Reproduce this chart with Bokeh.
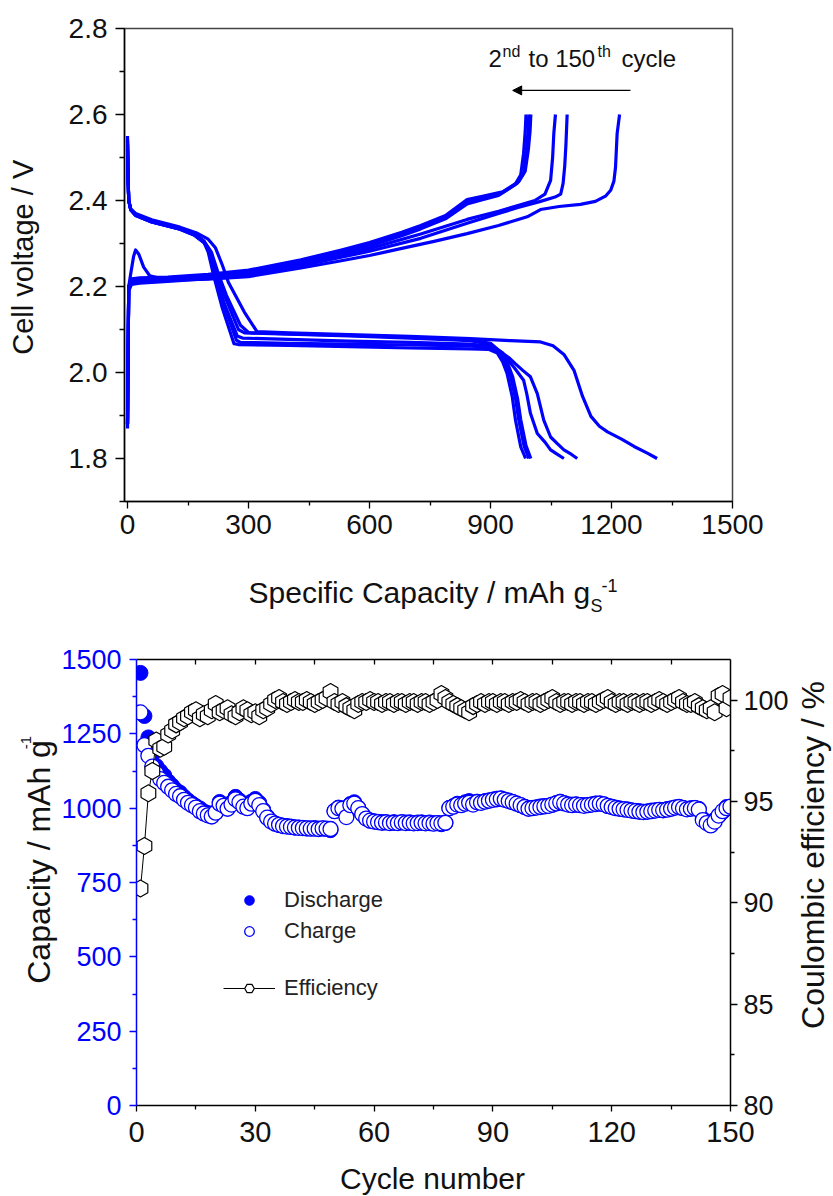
import numpy as np
from bokeh.plotting import figure
from bokeh.layouts import column, row
from bokeh.models import (Range1d, LinearAxis, FixedTicker, Label, Arrow, NormalHead,
                          Legend, LegendItem, NumeralTickFormatter)
from bokeh.embed import file_html
from bokeh.resources import INLINE

FONT = "Liberation Sans"
BLUE = "#0000ff"
TXT = "#111111"

# ---------------- top panel: voltage profiles ----------------
dis_cap_2 = [0, 1, 3, 8, 20, 60, 130, 170, 200, 218, 235, 250, 290, 321, 400, 550, 700, 850, 950, 1024, 1055, 1082, 1107, 1128, 1149, 1170, 1190, 1225, 1256, 1290, 1313]
dis_v_2 = [2.53, 2.47, 2.40, 2.38, 2.37, 2.355, 2.338, 2.325, 2.31, 2.29, 2.25, 2.21, 2.14, 2.095, 2.092, 2.088, 2.084, 2.079, 2.074, 2.071, 2.062, 2.042, 2.005, 1.945, 1.898, 1.875, 1.862, 1.845, 1.828, 1.812, 1.80]
dis_cap_5 = [0, 1, 3, 8, 20, 60, 130, 165, 190, 208, 225, 245, 280, 300, 400, 550, 700, 850, 900, 925, 945, 962, 980, 999, 1016, 1032, 1049, 1065, 1082, 1100, 1115]
dis_v_5 = [2.54, 2.47, 2.40, 2.38, 2.368, 2.352, 2.335, 2.322, 2.305, 2.28, 2.23, 2.18, 2.11, 2.093, 2.09, 2.086, 2.082, 2.076, 2.068, 2.048, 2.035, 2.02, 2.005, 1.99, 1.951, 1.889, 1.85, 1.835, 1.82, 1.81, 1.80]
dis_cap_10 = [0, 1, 3, 8, 20, 60, 130, 165, 190, 205, 222, 240, 275, 290, 400, 550, 700, 850, 900, 930, 960, 982, 990, 999, 1016, 1035, 1049, 1065, 1082]
dis_v_10 = [2.55, 2.47, 2.40, 2.38, 2.368, 2.352, 2.335, 2.322, 2.305, 2.28, 2.23, 2.18, 2.10, 2.092, 2.089, 2.085, 2.08, 2.074, 2.065, 2.045, 2.01, 1.982, 1.95, 1.905, 1.858, 1.838, 1.82, 1.81, 1.80]
dis_cap_50 = [0, 1, 3, 8, 20, 60, 130, 165, 190, 200, 215, 235, 264, 275, 400, 550, 700, 850, 895, 917, 930, 941, 954, 962, 975, 987]
dis_v_50 = [2.52, 2.46, 2.40, 2.378, 2.365, 2.35, 2.333, 2.32, 2.302, 2.28, 2.22, 2.15, 2.067, 2.065, 2.063, 2.06, 2.057, 2.055, 2.054, 2.045, 2.025, 1.998, 1.943, 1.889, 1.827, 1.80]
dis_cap_100 = [0, 1, 3, 8, 20, 60, 130, 165, 190, 202, 218, 238, 270, 280, 400, 550, 700, 850, 900, 925, 938, 950, 962, 970, 983, 995]
dis_v_100 = [2.53, 2.46, 2.40, 2.378, 2.365, 2.35, 2.333, 2.32, 2.302, 2.28, 2.22, 2.16, 2.075, 2.07, 2.068, 2.066, 2.064, 2.062, 2.058, 2.045, 2.02, 1.99, 1.94, 1.89, 1.83, 1.80]
dis_cap_150 = [0, 1, 3, 8, 20, 60, 130, 165, 190, 204, 220, 240, 272, 285, 400, 550, 700, 850, 905, 930, 943, 955, 967, 975, 988, 1000]
dis_v_150 = [2.54, 2.46, 2.40, 2.378, 2.366, 2.35, 2.334, 2.321, 2.303, 2.28, 2.22, 2.16, 2.085, 2.08, 2.077, 2.073, 2.07, 2.066, 2.06, 2.045, 2.02, 1.99, 1.94, 1.89, 1.83, 1.80]

chg_cap_2 = [0, 1, 3, 8, 15, 20, 28, 40, 55, 100, 200, 300, 430, 530, 600, 677, 760, 842, 920, 991, 1024, 1070, 1123, 1160, 1185, 1198, 1206, 1210, 1214, 1220]
chg_v_2 = [1.88, 2.0, 2.2, 2.23, 2.27, 2.285, 2.275, 2.245, 2.225, 2.215, 2.217, 2.223, 2.243, 2.26, 2.272, 2.288, 2.305, 2.323, 2.342, 2.362, 2.379, 2.386, 2.391, 2.398, 2.41, 2.424, 2.445, 2.478, 2.556, 2.60]
chg_cap_5 = [0, 1, 3, 10, 30, 100, 200, 300, 430, 530, 600, 727, 842, 920, 966, 1024, 1060, 1074, 1080, 1084, 1087, 1090]
chg_v_5 = [1.88, 2.0, 2.19, 2.205, 2.208, 2.212, 2.218, 2.226, 2.248, 2.268, 2.282, 2.312, 2.347, 2.37, 2.383, 2.398, 2.408, 2.415, 2.44, 2.48, 2.53, 2.60]
chg_cap_10 = [0, 1, 3, 10, 30, 100, 200, 300, 430, 530, 600, 727, 842, 920, 966, 1010, 1035, 1049, 1054, 1057, 1061]
chg_v_10 = [1.88, 2.0, 2.2, 2.21, 2.212, 2.216, 2.222, 2.23, 2.252, 2.272, 2.288, 2.322, 2.356, 2.375, 2.388, 2.40, 2.415, 2.447, 2.5, 2.556, 2.60]
chg_cap_50 = [0, 1, 3, 10, 30, 100, 200, 300, 430, 530, 600, 680, 727, 790, 842, 880, 925, 966, 982, 989, 993, 995]
chg_v_50 = [1.89, 2.02, 2.2, 2.215, 2.218, 2.22, 2.226, 2.235, 2.26, 2.282, 2.298, 2.322, 2.338, 2.362, 2.398, 2.406, 2.416, 2.44, 2.463, 2.517, 2.56, 2.60]
chg_cap_100 = [0, 1, 3, 10, 30, 100, 200, 300, 430, 530, 600, 680, 727, 790, 842, 880, 920, 960, 975, 982, 986, 988]
chg_v_100 = [1.87, 2.0, 2.2, 2.212, 2.215, 2.218, 2.224, 2.232, 2.256, 2.278, 2.294, 2.318, 2.334, 2.358, 2.392, 2.402, 2.412, 2.436, 2.46, 2.51, 2.56, 2.60]
chg_cap_150 = [0, 1, 3, 10, 30, 100, 200, 300, 430, 530, 600, 680, 727, 790, 842, 880, 930, 970, 986, 994, 998, 1000]
chg_v_150 = [1.88, 2.01, 2.2, 2.218, 2.22, 2.222, 2.228, 2.238, 2.262, 2.285, 2.302, 2.326, 2.342, 2.366, 2.402, 2.41, 2.42, 2.444, 2.468, 2.52, 2.56, 2.60]

volt_x_ticks = [0, 300, 600, 900, 1200, 1500]
volt_y_ticks = [1.8, 2.0, 2.2, 2.4, 2.6, 2.8]

# ---------------- bottom panel: cycling ----------------
cycles = list(range(1, 151))
charge_cap = [1322, 1212, 1176, 1140, 1118, 1098, 1085, 1072, 1060, 1048,
              1040, 1028, 1018, 1010, 1002, 990, 982, 976, 972, 985,
              1015, 1008, 998, 1012, 1030, 1020, 1005, 1000, 1015, 1025,
              1010, 990, 968, 955, 948, 944, 940, 938, 937, 935,
              934, 933, 932, 931, 931, 930, 932, 931, 930, 990,
              1000, 998, 970, 1010, 1015, 1000, 980, 965, 958, 955,
              953, 951, 952, 950, 951, 950, 952, 950, 951, 949,
              950, 951, 949, 950, 948, 950, 949, 951, 1000, 1005,
              1012, 1010, 1015, 1018, 1012, 1020, 1018, 1022, 1025, 1028,
              1030, 1032, 1028, 1024, 1020, 1015, 1010, 1004, 998, 1000,
              1002, 1004, 1006, 1008, 1012, 1016, 1020, 1016, 1012, 1010,
              1012, 1010, 1008, 1010, 1012, 1014, 1015, 1013, 1008, 1004,
              1000, 998, 996, 994, 992, 990, 988, 987, 988, 990,
              992, 994, 993, 995, 998, 1002, 1004, 1000, 996, 998,
              1000, 995, 960, 950, 942, 955, 975, 990, 1000, 1005]
discharge_cap = [1455, 1310, 1238, 1180, 1142, 1125, 1110, 1090, 1076, 1061,
                 1052, 1038, 1026, 1016, 1007, 999, 989, 984, 977, 987,
                 1021, 1013, 1002, 1019, 1038, 1026, 1009, 1005, 1022, 1031,
                 1018, 995, 972, 957, 948, 943, 941, 940, 938, 935,
                 935, 934, 932, 932, 933, 931, 932, 930, 926, 991,
                 1002, 999, 973, 1014, 1020, 1002, 981, 966, 958, 956,
                 954, 953, 953, 951, 953, 951, 953, 952, 952, 950,
                 952, 952, 950, 952, 949, 950, 946, 950, 1001, 1007,
                 1015, 1014, 1020, 1024, 1015, 1022, 1019, 1024, 1026, 1029,
                 1032, 1033, 1029, 1026, 1021, 1016, 1010, 1005, 1000, 1001,
                 1003, 1006, 1007, 1008, 1011, 1017, 1022, 1017, 1013, 1012,
                 1013, 1011, 1010, 1011, 1013, 1016, 1016, 1013, 1007, 1005,
                 1002, 999, 997, 996, 993, 991, 990, 988, 989, 992,
                 993, 994, 994, 997, 999, 1002, 1003, 1001, 998, 1000,
                 1001, 998, 964, 955, 946, 961, 973, 987, 1004, 1004]
efficiency = [90.7, 92.8, 95.4, 96.5, 98.0, 97.6, 97.7, 98.3, 98.5, 98.8,
              98.9, 99.1, 99.2, 99.4, 99.5, 99.1, 99.3, 99.2, 99.5, 99.8,
              99.4, 99.5, 99.6, 99.3, 99.2, 99.4, 99.6, 99.5, 99.3, 99.4,
              99.2, 99.5, 99.6, 99.8, 100.0, 100.1, 99.9, 99.8, 99.9, 100.0,
              99.9, 99.9, 100.0, 99.9, 99.8, 99.9, 100.0, 100.1, 100.4, 99.9,
              99.8, 99.9, 99.7, 99.6, 99.5, 99.8, 99.9, 99.9, 100.0, 99.9,
              99.9, 99.8, 99.9, 99.9, 99.8, 99.9, 99.9, 99.8, 99.9, 99.9,
              99.8, 99.9, 99.9, 99.8, 99.9, 100.0, 100.3, 100.1, 99.9, 99.8,
              99.7, 99.6, 99.5, 99.4, 99.7, 99.8, 99.9, 99.8, 99.9, 99.9,
              99.8, 99.9, 99.9, 99.8, 99.9, 99.9, 100.0, 99.9, 99.8, 99.9,
              99.9, 99.8, 99.9, 100.0, 100.1, 99.9, 99.8, 99.9, 99.9, 99.8,
              99.9, 99.9, 99.8, 99.9, 99.9, 99.8, 99.9, 100.0, 100.1, 99.9,
              99.8, 99.9, 99.9, 99.8, 99.9, 99.9, 99.8, 99.9, 99.9, 99.8,
              99.9, 100.0, 99.9, 99.8, 99.9, 100.0, 100.1, 99.9, 99.8, 99.8,
              99.9, 99.7, 99.6, 99.5, 99.6, 99.4, 100.2, 100.3, 99.6, 100.1]

cyc_x_ticks = [0, 30, 60, 90, 120, 150]
cap_y_ticks = [0, 250, 500, 750, 1000, 1250, 1500]
eff_y_ticks = [80, 85, 90, 95, 100]


def label_fig(w, h):
    f = figure(width=w, height=h, x_range=Range1d(0, w), y_range=Range1d(0, h),
               output_backend="svg", toolbar_location=None,
               x_axis_type=None, y_axis_type=None, min_border=0)
    f.outline_line_color = None
    f.background_fill_color = "white"
    f.border_fill_color = "white"
    return f


def txt(x, y, s, size, angle=0.0, align="center", x_offset=0):
    return Label(x=x, y=y, x_offset=x_offset, text=s, angle=angle, text_font=FONT,
                 text_font_size=size, text_color=TXT, text_align=align,
                 text_baseline="middle")


# ================= TOP FIGURE =================
p1 = figure(width=783, height=551, output_backend="svg", toolbar_location=None,
            x_range=Range1d(-7.5, 1500), y_range=Range1d(1.7, 2.8),
            min_border_left=74, min_border_right=101,
            min_border_top=28, min_border_bottom=50)
p1.xgrid.grid_line_color = None
p1.ygrid.grid_line_color = None
p1.outline_line_color = "#444444"
p1.outline_line_width = 1.5
p1.background_fill_color = "white"
p1.border_fill_color = "white"

for cap, v in [(dis_cap_2, dis_v_2), (dis_cap_5, dis_v_5), (dis_cap_10, dis_v_10),
               (dis_cap_50, dis_v_50), (dis_cap_100, dis_v_100), (dis_cap_150, dis_v_150),
               (chg_cap_2, chg_v_2), (chg_cap_5, chg_v_5), (chg_cap_10, chg_v_10),
               (chg_cap_50, chg_v_50), (chg_cap_100, chg_v_100), (chg_cap_150, chg_v_150)]:
    p1.line(cap, v, line_color=BLUE, line_width=3.2, line_join="round")

xa = p1.xaxis[0]
xa.ticker = FixedTicker(ticks=volt_x_ticks, minor_ticks=[150, 450, 750, 1050, 1350])
ya = p1.yaxis[0]
ya.ticker = FixedTicker(ticks=volt_y_ticks, minor_ticks=[1.7, 1.9, 2.1, 2.3, 2.5, 2.7])
ya.formatter = NumeralTickFormatter(format="0.0")
for ax in (xa, ya):
    ax.axis_line_color = "black"
    ax.axis_line_width = 1.5
    ax.major_tick_line_color = "black"
    ax.minor_tick_line_color = "black"
    ax.major_tick_line_width = 1.3
    ax.minor_tick_line_width = 1.3
    ax.major_tick_in = 0
    ax.minor_tick_in = 0
    ax.major_label_text_font = FONT
    ax.major_label_text_font_size = "28px"
    ax.major_label_text_color = TXT
xa.major_tick_out = 7
xa.minor_tick_out = 4
xa.major_label_standoff = 6
ya.major_tick_out = 9
ya.minor_tick_out = 5
ya.major_label_standoff = 8

# annotation "2nd to 150th cycle" with arrow
for s, dx, yy, fs in [("2", 0, 2.731, "24px"), ("nd", 14, 2.747, "16px"),
                      ("to 150", 40, 2.731, "24px"), ("th", 109, 2.747, "16px"),
                      ("cycle", 133, 2.731, "24px")]:
    p1.add_layout(txt(895, yy, s, fs, align="left", x_offset=dx))
p1.add_layout(Arrow(x_start=1247, y_start=2.656, x_end=955, y_end=2.656,
                    line_color="black", line_width=1.3,
                    end=NormalHead(size=9, fill_color="black", line_color="black")))

# left title strip for top panel
L1 = label_fig(50, 551)
L1.add_layout(txt(22.5, 284.5, "Cell voltage / V", "29px", angle=np.pi / 2))

# x-title strip for top panel
B1 = label_fig(833, 67)
B1.add_layout(txt(248, 26, "Specific Capacity / mAh g", "30px", align="left"))
B1.add_layout(txt(590, 12.5, "S", "18px", align="left"))
B1.add_layout(txt(601, 33.5, "-1", "18px", align="left"))

# ================= BOTTOM FIGURE =================
LW, RW = 58, 42
p2 = figure(width=833 - LW - RW, height=542, output_backend="svg", toolbar_location=None,
            x_range=Range1d(0, 150), y_range=Range1d(0, 1500),
            min_border_left=135 - LW, min_border_right=833 - LW - RW - (135 - LW) - 595,
            min_border_top=41, min_border_bottom=55)
p2.extra_y_ranges = {"eff": Range1d(80, 102)}
p2.xgrid.grid_line_color = None
p2.ygrid.grid_line_color = None
p2.outline_line_color = None
p2.background_fill_color = "white"
p2.border_fill_color = "white"

p2.scatter(cycles, discharge_cap, marker="circle", size=15,
           fill_color=BLUE, line_color=BLUE, line_width=1)
p2.scatter(cycles, charge_cap, marker="circle", size=15,
           fill_color="white", line_color=BLUE, line_width=1.3)
p2.line(cycles, efficiency, y_range_name="eff", line_color="black", line_width=1)
p2.scatter(cycles, efficiency, y_range_name="eff", marker="hex", size=17,
           angle=np.pi / 2, fill_color="white", line_color="black", line_width=1.2)

bx = p2.xaxis[0]
bx.ticker = FixedTicker(ticks=cyc_x_ticks, minor_ticks=[15, 45, 75, 105, 135])
by = p2.yaxis[0]
by.ticker = FixedTicker(ticks=cap_y_ticks, minor_ticks=[125, 375, 625, 875, 1125, 1375])
ry = LinearAxis(y_range_name="eff",
                ticker=FixedTicker(ticks=eff_y_ticks, minor_ticks=[82.5, 87.5, 92.5, 97.5]))
p2.add_layout(ry, "right")
tx = LinearAxis(ticker=FixedTicker(ticks=[15, 30, 45, 60, 75, 90, 105, 120, 135], minor_ticks=[]))
p2.add_layout(tx, "above")

for ax in (bx, by, ry, tx):
    ax.axis_line_width = 1.5
    ax.major_tick_line_width = 1.3
    ax.minor_tick_line_width = 1.3
    ax.major_tick_in = 0
    ax.minor_tick_in = 0
    ax.major_label_text_font = FONT
    ax.major_label_text_color = TXT
    ax.axis_line_color = "black"
    ax.major_tick_line_color = "black"
    ax.minor_tick_line_color = "black"
bx.major_label_text_font_size = "29px"
bx.major_tick_out = 6
bx.minor_tick_out = 4
bx.major_label_standoff = 10
by.major_label_text_font_size = "27px"
by.major_label_text_color = BLUE
by.axis_line_color = BLUE
by.major_tick_line_color = BLUE
by.minor_tick_line_color = BLUE
by.major_tick_out = 7
by.minor_tick_out = 4
by.major_label_standoff = 8
ry.major_label_text_font_size = "27px"
ry.major_tick_out = 7
ry.minor_tick_out = 4
ry.major_label_standoff = 6
tx.major_tick_in = 5
tx.major_tick_out = 0
tx.major_label_text_font_size = "1px"
tx.major_label_text_alpha = 0

# legend proxies (placed off-range so only the legend shows them)
lg_dis = p2.scatter([-50], [-50], marker="circle", size=12, fill_color=BLUE, line_color=BLUE)
lg_chg = p2.scatter([-50], [-50], marker="circle", size=12, fill_color="white",
                    line_color=BLUE, line_width=1.3)
lg_eff_l = p2.line([-60, -50], [-50, -50], line_color="black", line_width=1.2)
lg_eff_m = p2.scatter([-50], [-50], marker="hex", size=15, angle=np.pi / 2,
                      fill_color="white", line_color="black", line_width=1.2)

common = dict(padding=0, spacing=5, glyph_width=52, glyph_height=24, label_height=24,
              label_standoff=9, border_line_color=None, background_fill_alpha=0,
              label_text_font=FONT, label_text_font_size="22px", label_text_color="#222222",
              margin=0)
leg1 = Legend(items=[LegendItem(label="Discharge", renderers=[lg_dis]),
                     LegendItem(label="Charge", renderers=[lg_chg])],
              location=(87, 161), **common)
leg2 = Legend(items=[LegendItem(label="Efficiency", renderers=[lg_eff_l, lg_eff_m])],
              location=(87, 104), **common)
p2.add_layout(leg1)
p2.add_layout(leg2)

# side title strips for bottom panel
L2 = label_fig(LW, 542)
L2.add_layout(txt(38.5, 296, "Capacity / mAh g", "32px", angle=np.pi / 2))
L2.add_layout(txt(25, 441, "-1", "15px", angle=np.pi / 2))
R2 = label_fig(RW, 542)
R2.add_layout(txt(21.5, 304.5, "Coulombic efficiency / %", "32px", angle=np.pi / 2))
B2 = label_fig(833, 36)
B2.add_layout(txt(432, 18, "Cycle number", "30px"))

layout = column(row(L1, p1, spacing=0), B1, row(L2, p2, R2, spacing=0), B2, spacing=0)
open("out.html", "w").write(file_html(layout, INLINE))
